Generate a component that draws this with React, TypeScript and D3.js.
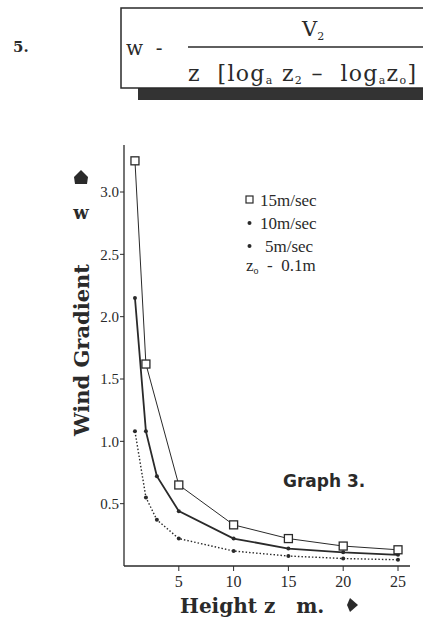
import * as d3 from 'd3';
import { useEffect, useRef } from 'react';

// heights (m) and wind gradient values
const heights15 = [1, 2, 5, 10, 15, 20, 25];
const grad15 = [3.25, 1.62, 0.65, 0.33, 0.22, 0.16, 0.13];
const heights10 = [1, 2, 3, 5, 10, 15, 20, 25];
const grad10 = [2.15, 1.08, 0.72, 0.44, 0.22, 0.14, 0.11, 0.09];
const heights5 = [1, 2, 3, 5, 10, 15, 20, 25];
const grad5 = [1.08, 0.55, 0.37, 0.22, 0.12, 0.08, 0.06, 0.05];

const xTicks = [5, 10, 15, 20, 25];
const yTicks = [0.5, 1.0, 1.5, 2.0, 2.5, 3.0];
const legendLabels = ['15m/sec', '10m/sec', '5m/sec'];

const W = 423;
const H = 624;
const ink = '#2a2a2a';

const App = () => {
  const ref = useRef<SVGSVGElement>(null);

  useEffect(() => {
    const svg = d3.select(ref.current);
    svg.selectAll('*').remove();

    const serif = '"DejaVu Serif", serif';
    const times = '"Liberation Serif", serif';

    // ---- formula box at top
    svg.append('text').attr('x', 13).attr('y', 52)
      .style('font', `bold 15px ${serif}`).attr('fill', ink).text('5.');

    svg.append('rect').attr('x', 138).attr('y', 87).attr('width', 300).attr('height', 13)
      .attr('fill', '#333');
    svg.append('rect').attr('x', 121).attr('y', 8).attr('width', 320).attr('height', 80)
      .attr('fill', 'white').attr('stroke', ink).attr('stroke-width', 1.5);

    svg.append('text').attr('x', 126).attr('y', 55)
      .style('font', `20px ${serif}`).attr('fill', ink).attr('xml:space', 'preserve').text('w  -');
    svg.append('line').attr('x1', 188).attr('x2', 423).attr('y1', 47).attr('y2', 47)
      .attr('stroke', ink).attr('stroke-width', 1.5);
    const num = svg.append('text').attr('x', 302).attr('y', 36)
      .style('font', `21px ${serif}`).attr('fill', ink);
    num.append('tspan').text('V');
    num.append('tspan').attr('dy', 4).style('font-size', '11px').text('2');

    const den = svg.append('text').attr('x', 188).attr('y', 81)
      .attr('textLength', 228).attr('lengthAdjust', 'spacing')
      .style('font', `22px ${serif}`).attr('fill', ink).attr('xml:space', 'preserve');
    den.append('tspan').text('z  [log');
    den.append('tspan').attr('dy', 3).style('font-size', '11px').text('a');
    den.append('tspan').attr('dy', -3).text(' z');
    den.append('tspan').attr('dy', 3).style('font-size', '11px').text('2');
    den.append('tspan').attr('dy', -3).text(' –  log');
    den.append('tspan').attr('dy', 3).style('font-size', '11px').text('a');
    den.append('tspan').attr('dy', -3).text('z');
    den.append('tspan').attr('dy', 3).style('font-size', '11px').text('o');
    den.append('tspan').attr('dy', -3).text(']');

    // ---- scales
    const x = d3.scaleLinear().domain([0, 25]).range([124, 398]);
    const y = d3.scaleLinear().domain([0, 3]).range([566, 192]);

    // axes
    const g = svg.append('g');
    g.append('line').attr('x1', x(0)).attr('x2', x(0)).attr('y1', 145).attr('y2', y(0))
      .attr('stroke', ink).attr('stroke-width', 1.3);
    g.append('line').attr('x1', x(0)).attr('x2', 410).attr('y1', y(0)).attr('y2', y(0))
      .attr('stroke', ink).attr('stroke-width', 1.3);

    yTicks.forEach(t => {
      g.append('line').attr('x1', x(0) - 4).attr('x2', x(0)).attr('y1', y(t)).attr('y2', y(t))
        .attr('stroke', ink);
      g.append('text').attr('x', x(0) - 5).attr('y', y(t)).attr('dy', '0.35em')
        .attr('text-anchor', 'end').style('font', `15px ${times}`).attr('fill', ink)
        .text(d3.format('.1f')(t));
    });
    xTicks.forEach(t => {
      g.append('line').attr('x1', x(t)).attr('x2', x(t)).attr('y1', y(0)).attr('y2', y(0) + 5)
        .attr('stroke', ink);
      g.append('text').attr('x', x(t)).attr('y', y(0) + 21)
        .attr('text-anchor', 'middle').style('font', `16px ${times}`).attr('fill', ink)
        .text(t);
    });

    // ---- series
    const line = d3.line<[number, number]>().x(d => x(d[0])).y(d => y(d[1]));
    const s15 = heights15.map((h, i) => [h, grad15[i]] as [number, number]);
    const s10 = heights10.map((h, i) => [h, grad10[i]] as [number, number]);
    const s5 = heights5.map((h, i) => [h, grad5[i]] as [number, number]);

    g.append('path').attr('d', line(s5)).attr('fill', 'none').attr('stroke', ink)
      .attr('stroke-width', 1.4).attr('stroke-dasharray', '1.5,2');
    g.append('path').attr('d', line(s10)).attr('fill', 'none').attr('stroke', ink)
      .attr('stroke-width', 1.8);
    g.append('path').attr('d', line(s15)).attr('fill', 'none').attr('stroke', ink)
      .attr('stroke-width', 1);

    g.selectAll('.d5').data(s5).enter().append('circle')
      .attr('cx', d => x(d[0])).attr('cy', d => y(d[1])).attr('r', 2).attr('fill', ink);
    g.selectAll('.d10').data(s10).enter().append('circle')
      .attr('cx', d => x(d[0])).attr('cy', d => y(d[1])).attr('r', 2).attr('fill', ink);
    g.selectAll('.d15').data(s15).enter().append('rect')
      .attr('x', d => x(d[0]) - 4).attr('y', d => y(d[1]) - 4)
      .attr('width', 8).attr('height', 8)
      .attr('fill', 'white').attr('stroke', ink).attr('stroke-width', 1.3);

    // ---- legend
    const lx = 246;
    const ly = [200, 223, 246];
    svg.append('rect').attr('x', lx).attr('y', ly[0] - 4).attr('width', 7).attr('height', 7)
      .attr('fill', 'white').attr('stroke', ink).attr('stroke-width', 1.2);
    svg.append('circle').attr('cx', lx + 3.5).attr('cy', ly[1]).attr('r', 2).attr('fill', ink);
    svg.append('circle').attr('cx', lx + 3.5).attr('cy', ly[2]).attr('r', 2).attr('fill', ink);
    legendLabels.forEach((l, i) => {
      svg.append('text').attr('x', lx + (i === 2 ? 19 : 14)).attr('y', ly[i]).attr('dy', '0.35em')
        .style('font', `17px ${times}`).attr('fill', ink).text(l);
    });
    const z0 = svg.append('text').attr('x', lx).attr('y', 271)
      .style('font', `17px ${times}`).attr('fill', ink);
    z0.append('tspan').text('z');
    z0.append('tspan').attr('dy', 3).style('font-size', '10px').text('o');
    z0.append('tspan').attr('dy', -3).attr('xml:space', 'preserve').text('  -  0.1m');

    svg.append('text').attr('x', 283).attr('y', 487)
      .style('font', 'bold 17px "DejaVu Sans", sans-serif').attr('fill', ink).text('Graph 3.');

    // ---- axis titles
    svg.append('text').attr('transform', 'translate(89,350) rotate(-90)')
      .attr('text-anchor', 'middle').style('font', `bold 21px ${serif}`).attr('fill', ink)
      .text('Wind Gradient');
    svg.append('text').attr('x', 81).attr('y', 219).attr('text-anchor', 'middle')
      .style('font', `bold 18px ${serif}`).attr('fill', ink).text('w');
    svg.append('path').attr('d', 'M81,170 L88,177 L87,184 L75,184 L74,177 Z').attr('fill', ink);

    svg.append('text').attr('x', 180).attr('y', 613)
      .style('font', `bold 20px ${serif}`).attr('fill', ink)
      .attr('xml:space', 'preserve').text('Height z   m.');
    svg.append('path').attr('d', 'M350,598 L358,605 L350,612 L347,605 Z').attr('fill', ink);
  }, []);

  return (
    <svg ref={ref} width={W} height={H}
      style={{ position: 'absolute', left: 0, top: 0, background: 'white' }} />
  );
};

export default App;
